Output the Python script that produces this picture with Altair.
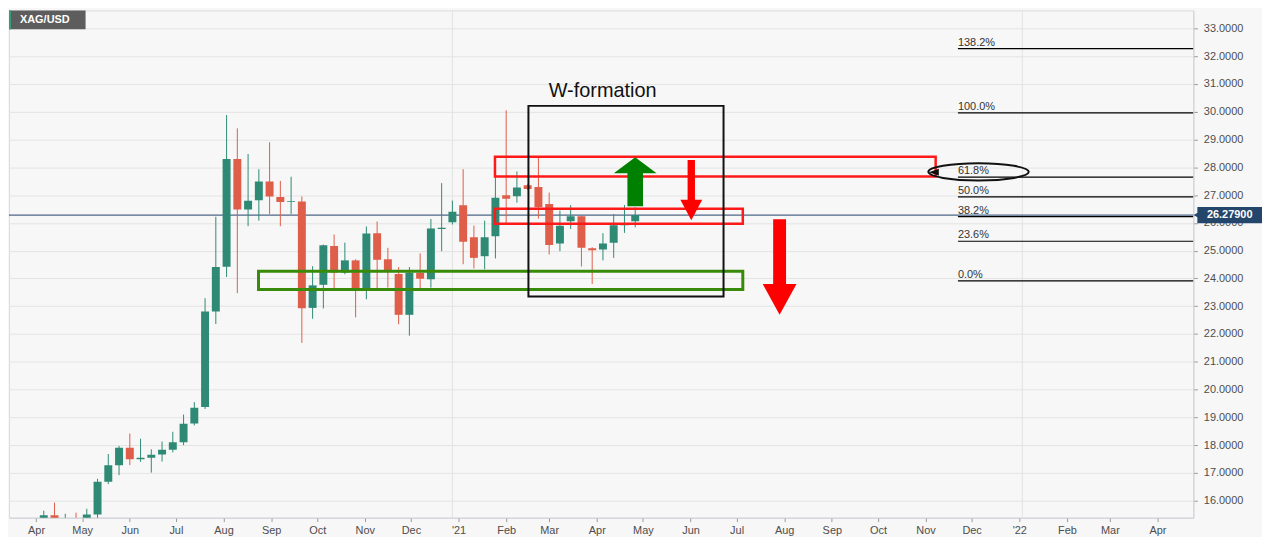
import altair as alt
import pandas as pd
from datetime import datetime, timezone

# ---------------- data ----------------
dates = ["2020-03-09", "2020-03-16", "2020-03-23", "2020-03-30", "2020-04-06", "2020-04-13",
         "2020-04-20", "2020-04-27", "2020-05-04", "2020-05-11", "2020-05-18", "2020-05-25",
         "2020-06-01", "2020-06-08", "2020-06-15", "2020-06-22", "2020-06-29", "2020-07-06",
         "2020-07-13", "2020-07-20", "2020-07-27", "2020-08-03", "2020-08-10", "2020-08-17",
         "2020-08-24", "2020-08-31", "2020-09-07", "2020-09-14", "2020-09-21", "2020-09-28",
         "2020-10-05", "2020-10-12", "2020-10-19", "2020-10-26", "2020-11-02", "2020-11-09",
         "2020-11-16", "2020-11-23", "2020-11-30", "2020-12-07", "2020-12-14", "2020-12-21",
         "2020-12-28", "2021-01-04", "2021-01-11", "2021-01-18", "2021-01-25", "2021-02-01",
         "2021-02-08", "2021-02-15", "2021-02-22", "2021-03-01", "2021-03-08", "2021-03-15",
         "2021-03-22", "2021-03-29", "2021-04-05", "2021-04-12", "2021-04-19", "2021-04-26"]
opens = [17.55, 14.85, 12.60, 14.45, 15.00, 15.48, 15.15, 15.25, 14.95, 15.50, 16.68, 17.28,
         17.91, 17.49, 17.55, 17.66, 17.83, 18.10, 18.78, 19.37, 22.81, 24.42, 28.30, 26.48,
         26.81, 27.49, 26.93, 26.75, 26.77, 22.94, 23.77, 25.17, 24.21, 24.65, 23.65, 25.63,
         24.69, 24.16, 22.69, 24.20, 23.97, 25.78, 26.02, 26.63, 25.48, 24.80, 25.52, 26.99,
         26.96, 27.35, 27.29, 26.68, 25.26, 26.06, 26.24, 25.09, 25.04, 25.28, 25.91, 26.06]
highs = [17.65, 15.00, 14.80, 15.20, 15.64, 15.93, 15.53, 15.57, 15.71, 16.79, 17.68, 17.97,
         18.42, 18.23, 17.85, 18.13, 18.48, 19.10, 19.55, 23.29, 26.22, 29.88, 29.40, 28.48,
         27.93, 28.90, 27.51, 27.66, 26.95, 24.44, 25.22, 25.58, 25.29, 24.69, 25.87, 26.05,
         25.10, 24.41, 24.41, 24.90, 26.14, 27.43, 26.80, 27.93, 25.90, 26.08, 27.66, 30.05,
         27.85, 27.40, 28.35, 27.09, 26.44, 26.64, 26.28, 25.12, 25.63, 26.32, 26.64, 26.56]
lows = [14.65, 11.65, 12.50, 14.00, 14.90, 15.10, 14.60, 14.65, 14.90, 15.30, 16.60, 16.92,
        17.28, 17.40, 17.01, 17.41, 17.74, 18.00, 18.71, 19.30, 22.36, 24.05, 23.47, 25.88,
        26.08, 26.32, 25.88, 26.32, 21.68, 22.55, 22.92, 23.63, 24.15, 22.60, 23.25, 23.65,
        23.67, 22.35, 21.94, 23.59, 23.67, 24.98, 25.94, 24.51, 24.36, 24.33, 24.72, 25.96,
        26.73, 27.18, 26.15, 24.86, 24.98, 25.78, 24.43, 23.80, 24.65, 24.74, 25.64, 25.84]
closes = [14.85, 12.60, 14.45, 15.00, 15.48, 15.30, 15.25, 14.95, 15.50, 16.68, 17.28, 17.91,
          17.49, 17.55, 17.65, 17.83, 18.10, 18.77, 19.35, 22.81, 24.41, 28.30, 26.48, 26.80,
          27.49, 26.95, 26.75, 26.78, 22.93, 23.75, 25.19, 24.21, 24.65, 23.65, 25.62, 24.67,
          24.29, 22.69, 24.21, 23.99, 25.80, 25.82, 26.40, 25.32, 24.74, 25.48, 26.90, 26.87,
          27.27, 27.22, 26.56, 25.20, 25.90, 26.24, 25.10, 25.01, 25.26, 25.91, 25.96, 26.279]

symbol = "XAG/USD"
last_price = 26.279

month_ticks = ["2020-04-01", "2020-05-01", "2020-06-01", "2020-07-01", "2020-08-01",
               "2020-09-01", "2020-10-01", "2020-11-01", "2020-12-01", "2021-01-01",
               "2021-02-01", "2021-03-01", "2021-04-01", "2021-05-01", "2021-06-01",
               "2021-07-01", "2021-08-01", "2021-09-01", "2021-10-01", "2021-11-01",
               "2021-12-01", "2022-01-01", "2022-02-01", "2022-03-01", "2022-04-01"]
year_grid = ["2020-12-28", "2022-01-03"]
price_ticks = list(range(16, 34))

# drawn zones (rectangles)
zone_x1 = ["2021-01-24T17:00:00Z", "2021-01-24T17:00:00Z", "2020-08-23T19:00:00Z", "2021-02-15T12:00:00Z"]
zone_x2 = ["2021-11-07T14:00:00Z", "2021-07-05T01:00:00Z", "2021-07-05T01:00:00Z", "2021-06-22T12:00:00Z"]
zone_top = [28.38, 26.51, 24.26, 30.21]
zone_bot = [27.67, 25.97, 23.60, 23.35]
zone_color = ["#ff1a1a", "#ff1a1a", "#3a8a0a", "#111111"]
zone_width = [2.5, 2.5, 3.0, 2.0]

w_label = "W-formation"
w_label_date = "2021-04-04T19:00:00Z"
w_label_price = 30.745

# arrows: date, middle price
arrow_up_date, arrow_up_mid = "2021-04-26T00:00:00Z", 27.476
arrow_dn1_date, arrow_dn1_mid = "2021-06-01T12:00:00Z", 27.18
arrow_dn2_date, arrow_dn2_mid = "2021-07-29T00:00:00Z", 24.41

# fibonacci retracement
fib_pcts = [0.0, 23.6, 38.2, 50.0, 61.8, 100.0, 138.2, 161.8]
fib_low, fib_high = 23.91, 29.96
fib_start = "2021-11-22T02:00:00Z"
ellipse_date, ellipse_price = "2021-12-05T12:00:00Z", 27.835
wedge_date, wedge_price = "2021-11-06T10:00:00Z", 27.82


def ms(s):
    return int(datetime.fromisoformat(s.replace("Z", "")).replace(tzinfo=timezone.utc).timestamp() * 1000)


# ---------------- layout ----------------
PLOT_W, PLOT_H = 1191, 510
X_DOMAIN = [ms("2020-03-14T08:40:00"), ms("2022-04-24T08:24:00")]
Y_DOMAIN = [15.391, 33.644]
FONT = "Liberation Sans"
UP, DOWN = "#2e8a74", "#df5e4a"

xs = alt.Scale(type="utc", domain=X_DOMAIN, padding=0)
ys = alt.Scale(domain=Y_DOMAIN, nice=False, zero=False, padding=0)
x_axis = alt.Axis(values=[ms(d) for d in month_ticks], title=None, grid=False,
                  labelExpr="utcmonth(datum.value) == 0 ? \"'\" + utcFormat(datum.value, '%y') : utcFormat(datum.value, '%b')",
                  domainColor="#cfd0da", tickColor="#9a9a9a", tickSize=4, labelPadding=3,
                  labelColor="#4d4d4d", labelFontSize=11, labelFont=FONT, labelOverlap=False,
                  labelFlush=False)
y_axis = alt.Axis(orient="right", values=price_ticks, format=".4f", title=None, grid=True,
                  gridColor="#e4e4e4", domainColor="#cfd0da", tickColor="#9a9a9a", tickSize=4,
                  labelPadding=6, labelColor="#4d4d4d", labelFontSize=11, labelFont=FONT)


def X(f):
    return alt.X(f"{f}:T", scale=xs, axis=x_axis)


def Y(f):
    return alt.Y(f"{f}:Q", scale=ys, axis=y_axis)


def arrow_path(total_h, head_h, head_w, shaft_w, up=True):
    r = total_h / 2.0
    hx, sx = head_w / 2 / r, shaft_w / 2 / r
    hb = 1 - head_h / r
    if up:
        pts = [(0, -1), (hx, -hb), (sx, -hb), (sx, 1), (-sx, 1), (-sx, -hb), (-hx, -hb)]
    else:
        pts = [(-sx, -1), (sx, -1), (sx, hb), (hx, hb), (0, 1), (-hx, hb), (-sx, hb)]
    return "M " + " L ".join(f"{a:.3f} {b:.3f}" for a, b in pts) + " Z", total_h ** 2


candles = pd.DataFrame({"date": dates, "open": opens, "high": highs, "low": lows, "close": closes})
candles["col"] = [UP if c >= o else DOWN for o, c in zip(opens, closes)]

zones = pd.DataFrame({"x1": zone_x1, "x2": zone_x2, "top": zone_top, "bot": zone_bot,
                      "c": zone_color, "w": zone_width})

fib = pd.DataFrame({"pct": fib_pcts})
fib["level"] = [fib_low + p / 100.0 * (fib_high - fib_low) for p in fib_pcts]
fib["label"] = [f"{p:.1f}%" for p in fib_pcts]
fib["x1"] = fib_start
fib["x2"] = pd.to_datetime(X_DOMAIN[1], unit="ms").strftime("%Y-%m-%dT%H:%M:%SZ")

layers = []

# year grid lines
layers.append(alt.Chart(pd.DataFrame({"date": year_grid})).mark_rule(color="#e2e2e2", strokeWidth=1)
              .encode(x=X("date")))

# last price line
layers.append(alt.Chart(pd.DataFrame({"p": [last_price]})).mark_rule(color="#22406a", strokeWidth=1)
              .encode(y=Y("p")))

# wicks and bodies
layers.append(alt.Chart(candles).mark_rule(strokeWidth=1, clip=True).encode(
    x=X("date"), y=Y("low"), y2="high", color=alt.Color("col:N", scale=None)))
layers.append(alt.Chart(candles).mark_bar(size=8, clip=True).encode(
    x=X("date"), y=Y("open"), y2="close", color=alt.Color("col:N", scale=None)))

# zones
layers.append(alt.Chart(zones).mark_rect(fillOpacity=0, clip=True).encode(
    x=X("x1"), x2="x2", y=Y("top"), y2="bot",
    stroke=alt.Stroke("c:N", scale=None), strokeWidth=alt.StrokeWidth("w:Q", scale=None)))

# W-formation label
layers.append(alt.Chart(pd.DataFrame({"d": [w_label_date], "p": [w_label_price], "t": [w_label]}))
              .mark_text(fontSize=20, font=FONT, color="#111111", align="center", baseline="middle")
              .encode(x=X("d"), y=Y("p"), text="t:N"))

# arrows
for d, p, spec, col in [
    (arrow_up_date, arrow_up_mid, arrow_path(49.3, 16, 43, 15.7, True), "#008000"),
    (arrow_dn1_date, arrow_dn1_mid, arrow_path(60.7, 20.7, 22, 7.4, False), "#ff0000"),
    (arrow_dn2_date, arrow_dn2_mid, arrow_path(96, 31, 34, 13, False), "#ff0000"),
]:
    path, size = spec
    layers.append(alt.Chart(pd.DataFrame({"d": [d], "p": [p]}))
                  .mark_point(shape=path, size=size, filled=True, color=col, opacity=1)
                  .encode(x=X("d"), y=Y("p")))

# fibonacci lines and labels
layers.append(alt.Chart(fib).mark_rule(color="#000000", strokeWidth=1.2, clip=True).encode(
    x=X("x1"), x2="x2", y=Y("level")))
layers.append(alt.Chart(fib).mark_text(align="left", baseline="alphabetic", dy=-3, fontSize=11,
                                       font=FONT, color="#333333", clip=True).encode(
    x=X("x1"), y=Y("level"), text="label:N"))

# ellipse around 61.8%
ry = 0.171
k = 0.5523
ell = (f"M -1 0 C -1 {-ry*k:.4f} {-k} {-ry} 0 {-ry} C {k} {-ry} 1 {-ry*k:.4f} 1 0 "
       f"C 1 {ry*k:.4f} {k} {ry} 0 {ry} C {-k} {ry} -1 {ry*k:.4f} -1 0 Z")
layers.append(alt.Chart(pd.DataFrame({"d": [ellipse_date], "p": [ellipse_price]}))
              .mark_point(shape=ell, size=101 ** 2, filled=False, color="#111111", strokeWidth=2, opacity=1)
              .encode(x=X("d"), y=Y("p")))
layers.append(alt.Chart(pd.DataFrame({"d": [wedge_date], "p": [wedge_price]}))
              .mark_point(shape="M -1 0 L 1 -0.7 L 1 0.7 Z", size=100, filled=True, color="#111111", opacity=1)
              .encode(x=X("d"), y=Y("p")))

# price tag on the axis
tag = pd.DataFrame({"p": [last_price], "hi": [last_price + 0.29], "lo": [last_price - 0.29],
                    "t": [f"{last_price:.5f}"]})
layers.append(alt.Chart(tag).mark_rect(color="#25466b").encode(
    x=alt.value(PLOT_W + 4), x2=alt.value(PLOT_W + 69), y=Y("hi"), y2="lo"))
layers.append(alt.Chart(tag).mark_point(shape="triangle-left", size=40, filled=True, color="#25466b", opacity=1)
              .encode(x=alt.value(PLOT_W + 3), y=Y("p")))
layers.append(alt.Chart(tag).mark_text(color="white", fontWeight="bold", fontSize=11, font=FONT,
                                       align="center", baseline="middle").encode(
    x=alt.value(PLOT_W + 36.5), y=Y("p"), text="t:N"))

# symbol badge
badge = pd.DataFrame({"t": [symbol]})
layers.append(alt.Chart(badge).mark_rect(color="#5d5d5d").encode(
    x=alt.value(0), x2=alt.value(77), y=alt.value(0), y2=alt.value(19)))
layers.append(alt.Chart(badge).mark_rect(color="#3a9a7a").encode(
    x=alt.value(0), x2=alt.value(2), y=alt.value(0), y2=alt.value(19)))
layers.append(alt.Chart(badge).mark_text(color="white", fontWeight="bold", fontSize=11, font=FONT,
                                         align="left", baseline="middle").encode(
    x=alt.value(11), y=alt.value(10), text="t:N"))

chart = (alt.layer(*layers)
         .properties(width=PLOT_W, height=PLOT_H, padding=0, background="#f7f7f7")
         .configure_view(fill="#f7f7f7", strokeWidth=0)
         .configure(font=FONT))

chart.save("out.html", embed_options={"renderer": "svg", "actions": False})
